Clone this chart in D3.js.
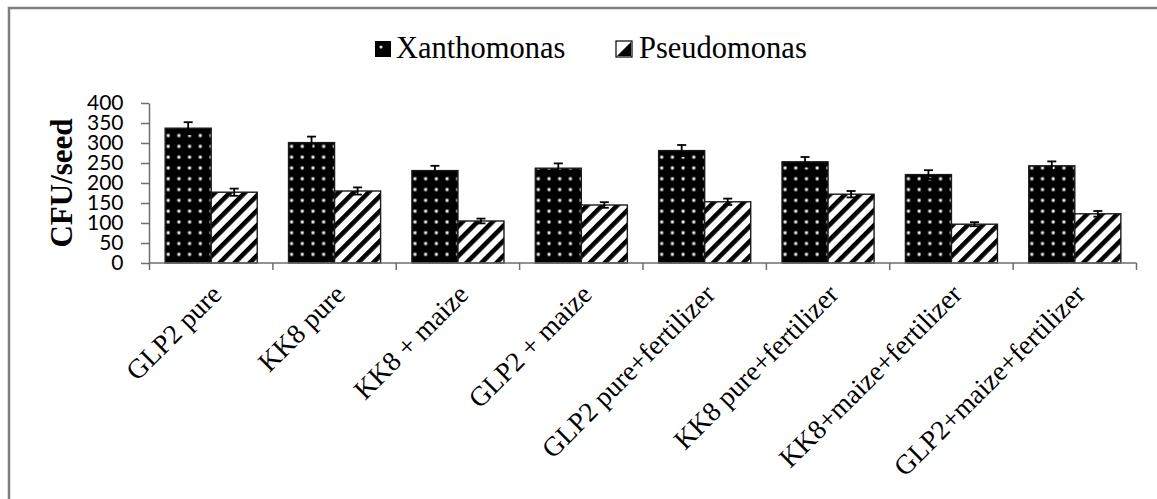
<!DOCTYPE html>
<html>
<head>
<meta charset="utf-8">
<script src="https://cdn.jsdelivr.net/npm/d3@7"></script>
<style>
  html, body { margin: 0; padding: 0; background: #fff; }
  svg { display: block; }
</style>
</head>
<body>
<svg id="chart" width="1157" height="499"></svg>
<script>
// Colony counts per seed for each treatment
const categories = [
  "GLP2 pure", "KK8 pure", "KK8 + maize", "GLP2 + maize",
  "GLP2 pure+fertilizer", "KK8 pure+fertilizer",
  "KK8+maize+fertilizer", "GLP2+maize+fertilizer"
];
const seriesNames = ["Xanthomonas", "Pseudomonas"];
const xanthomonas = [337, 301, 231, 237, 281, 253, 221, 243];
const xanthomonasErr = [15, 15, 12, 12, 14, 12, 11, 11];
const pseudomonas = [177, 180, 105, 145, 153, 172, 97, 123];
const pseudomonasErr = [9, 9, 6, 7, 8, 8, 5, 7];
const yTicks = [0, 50, 100, 150, 200, 250, 300, 350, 400];

const svg = d3.select("#chart");
const W = 1157, H = 499;

// Outer chart frame
svg.append("rect")
  .attr("x", 9).attr("y", 8)
  .attr("width", W + 20).attr("height", H + 20)
  .attr("fill", "#fff")
  .attr("stroke", "#7f7f7f")
  .attr("stroke-width", 2.5);

// Fill patterns
const defs = svg.append("defs");
const dots = defs.append("pattern")
  .attr("id", "dots")
  .attr("patternUnits", "userSpaceOnUse")
  .attr("width", 10.7).attr("height", 10.8)
  .attr("x", 3).attr("y", 1);
dots.append("rect").attr("width", 10.7).attr("height", 10.8).attr("fill", "#000");
dots.append("circle").attr("cx", 5).attr("cy", 5).attr("r", 2).attr("fill", "#8a8a8a");
dots.append("circle").attr("cx", 5).attr("cy", 5).attr("r", 1.1).attr("fill", "#fff");

const stripes = defs.append("pattern")
  .attr("id", "stripes")
  .attr("patternUnits", "userSpaceOnUse")
  .attr("width", 10.6).attr("height", 10.6)
  .attr("patternTransform", "rotate(45)");
stripes.append("rect").attr("width", 10.6).attr("height", 10.6).attr("fill", "#fff");
stripes.append("rect").attr("x", 0).attr("width", 4.6).attr("height", 10.6).attr("fill", "#000");

// Scales
const x = d3.scaleBand().domain(categories).range([149.5, 1136.5]).paddingInner(0).paddingOuter(0);
const x1 = d3.scaleBand().domain(seriesNames).range([0, x.bandwidth()]).paddingInner(0).paddingOuter(0.34);
const y = d3.scaleLinear().domain([0, 400]).range([263, 103]);

const rows = categories.map((c, i) => ({
  cat: c,
  values: [
    { s: "Xanthomonas", v: xanthomonas[i], e: xanthomonasErr[i] },
    { s: "Pseudomonas", v: pseudomonas[i], e: pseudomonasErr[i] }
  ]
}));

// Bars
const groups = svg.append("g").selectAll("g").data(rows).join("g")
  .attr("transform", d => `translate(${x(d.cat)},0)`);

groups.selectAll("rect").data(d => d.values).join("rect")
  .attr("x", d => x1(d.s))
  .attr("y", d => y(d.v))
  .attr("width", x1.bandwidth())
  .attr("height", d => y(0) - y(d.v))
  .attr("fill", d => d.s === "Xanthomonas" ? "url(#dots)" : "url(#stripes)")
  .attr("stroke", "#1a1a1a")
  .attr("stroke-width", 1.4);

// Error bars
const capW = 4.5;
const eb = groups.selectAll("g.err").data(d => d.values).join("g").attr("class", "err")
  .attr("stroke", "#000").attr("stroke-width", 1.8);
eb.append("line")
  .attr("x1", d => x1(d.s) + x1.bandwidth() / 2).attr("x2", d => x1(d.s) + x1.bandwidth() / 2)
  .attr("y1", d => y(d.v + d.e)).attr("y2", d => y(d.v - d.e));
eb.append("line")
  .attr("x1", d => x1(d.s) + x1.bandwidth() / 2 - capW).attr("x2", d => x1(d.s) + x1.bandwidth() / 2 + capW)
  .attr("y1", d => y(d.v + d.e)).attr("y2", d => y(d.v + d.e));
eb.append("line")
  .attr("x1", d => x1(d.s) + x1.bandwidth() / 2 - capW).attr("x2", d => x1(d.s) + x1.bandwidth() / 2 + capW)
  .attr("y1", d => y(d.v - d.e)).attr("y2", d => y(d.v - d.e));

// Y axis
const yAxis = svg.append("g")
  .attr("transform", "translate(149,0)")
  .call(d3.axisLeft(y).tickValues(yTicks).tickSize(8).tickSizeOuter(0).tickPadding(17.5));
yAxis.select(".domain").attr("stroke", "#6e6e6e").attr("stroke-width", 1.5);
yAxis.selectAll(".tick line").attr("stroke", "#6e6e6e").attr("stroke-width", 1.5);
yAxis.selectAll(".tick text")
  .attr("fill", "#000")
  .style("font-family", "Lato, 'Open Sans', sans-serif")
  .style("font-size", "21px");

// X axis line with ticks at category boundaries
const xAxis = svg.append("g");
xAxis.append("line")
  .attr("x1", x.range()[0]).attr("x2", x.range()[1])
  .attr("y1", y(0)).attr("y2", y(0))
  .attr("stroke", "#6e6e6e").attr("stroke-width", 1.5);
const bounds = categories.map(c => x(c)).concat([x(categories[categories.length - 1]) + x.bandwidth()]);
xAxis.selectAll("line.tk").data(bounds).join("line").attr("class", "tk")
  .attr("x1", d => d).attr("x2", d => d)
  .attr("y1", y(0)).attr("y2", y(0) + 7)
  .attr("stroke", "#6e6e6e").attr("stroke-width", 1.5);

// Category labels
xAxis.selectAll("text").data(categories).join("text")
  .attr("transform", d => `translate(${x(d) + x.bandwidth() / 2 + 12},296) rotate(-45)`)
  .attr("text-anchor", "end")
  .style("font-family", "'Liberation Serif', 'Times New Roman', serif")
  .style("font-size", "27.5px")
  .attr("fill", "#000")
  .text(d => d);

// Y axis title
svg.append("text")
  .attr("transform", "translate(72,183) rotate(-90)")
  .attr("text-anchor", "middle")
  .style("font-family", "'Liberation Serif', 'Times New Roman', serif")
  .style("font-size", "31px")
  .style("font-weight", "bold")
  .text("CFU/seed");

// Legend
const legendItems = [
  { name: seriesNames[0], sx: 375, tx: 396 },
  { name: seriesNames[1], sx: 616, tx: 639 }
];
const lg = svg.append("g").selectAll("g").data(legendItems).join("g");
lg.each(function(d, i) {
  const g = d3.select(this);
  if (i === 0) {
    g.append("rect").attr("x", d.sx).attr("y", 41).attr("width", 16).attr("height", 16).attr("fill", "#000");
    g.append("circle").attr("cx", d.sx + 6).attr("cy", 47).attr("r", 1.6).attr("fill", "#ddd");
  } else {
    g.append("rect").attr("x", d.sx).attr("y", 41).attr("width", 16).attr("height", 16)
      .attr("fill", "#fff").attr("stroke", "#000").attr("stroke-width", 1.2);
    g.append("path")
      .attr("d", `M${d.sx + 1},${41 + 15} L${d.sx + 15},${41 + 1} L${d.sx + 15},${41 + 15} Z`)
      .attr("fill", "#000");
  }
  g.append("text")
    .attr("x", d.tx).attr("y", 58)
    .style("font-family", "'Liberation Serif', 'Times New Roman', serif")
    .style("font-size", "30.5px")
    .text(d.name);
});
</script>
</body>
</html>
